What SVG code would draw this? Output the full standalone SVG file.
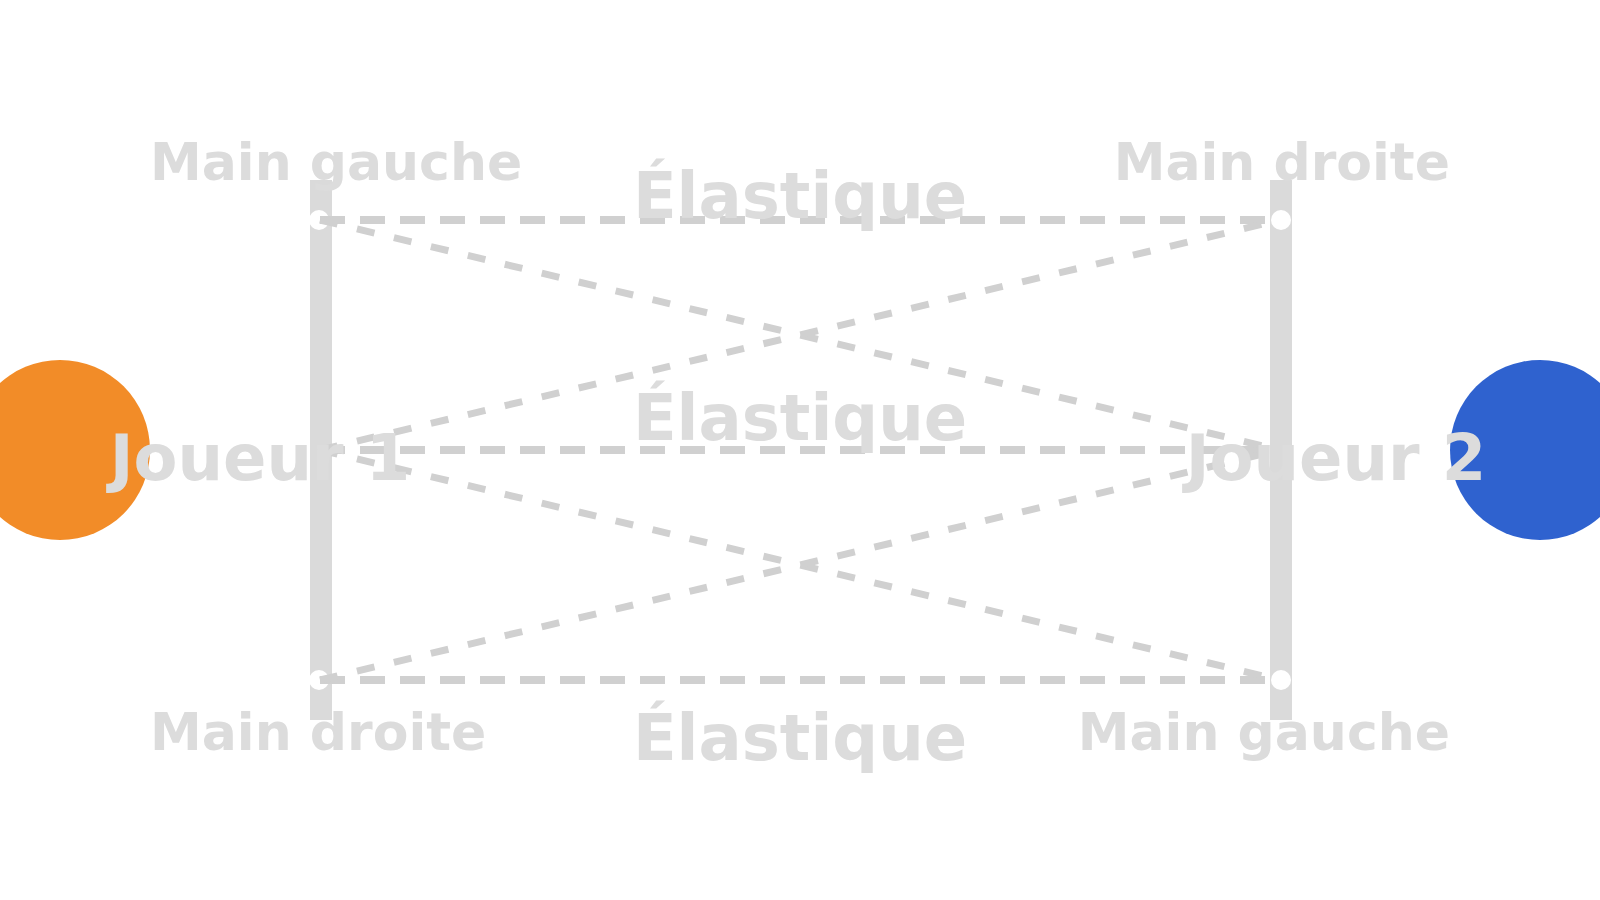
<svg xmlns="http://www.w3.org/2000/svg" width="1600" height="900" viewBox="0 0 1600 900">
<style>
.bar{fill:#dadada}
.el{stroke:#d0d0d0;stroke-width:8;stroke-dasharray:25 15;fill:none}
.diag{stroke:#d0d0d0;stroke-width:7;stroke-dasharray:18 20;fill:none}
.dot{fill:#ffffff}
.lbl{font-family:"DejaVu Sans",sans-serif;font-weight:bold;fill:#dcdcdc}
.hand{font-size:52px}
.big{font-size:64px}
</style>
<rect width="1600" height="900" fill="#ffffff"/>
<g id="joueur1"><circle cx="60" cy="450" r="90" fill="#f28c28"/></g>
<g id="joueur2"><circle cx="1540" cy="450" r="90" fill="#2f62cf"/></g>
<g id="baton-gauche"><rect class="bar" x="310" y="180" width="22" height="540"/></g>
<g id="baton-droit"><rect class="bar" x="1270" y="180" width="22" height="540"/></g>
<g id="mains">
<circle class="dot" cx="319" cy="220" r="10"/>
<circle class="dot" cx="1281" cy="220" r="10"/>
<circle class="dot" cx="319" cy="680" r="10"/>
<circle class="dot" cx="1281" cy="680" r="10"/>
</g>
<g id="connectors">
<line class="el" x1="320" y1="220" x2="1280" y2="220"/>
<line class="el" x1="320" y1="450" x2="1280" y2="450"/>
<line class="el" x1="320" y1="680" x2="1280" y2="680"/>
<line class="diag" x1="320" y1="220" x2="1280" y2="450"/>
<line class="diag" x1="320" y1="450" x2="1280" y2="220"/>
<line class="diag" x1="320" y1="450" x2="1280" y2="680"/>
<line class="diag" x1="320" y1="680" x2="1280" y2="450"/>
</g>
<g id="labels">
<text class="lbl hand" x="150" y="180">Main gauche</text>
<text class="lbl hand" x="1450" y="180" text-anchor="end">Main droite</text>
<text class="lbl hand" x="150" y="750">Main droite</text>
<text class="lbl hand" x="1450" y="750" text-anchor="end">Main gauche</text>
<text class="lbl big" x="800" y="218" text-anchor="middle">Élastique</text>
<text class="lbl big" x="800" y="440" text-anchor="middle">Élastique</text>
<text class="lbl big" x="800" y="760" text-anchor="middle">Élastique</text>
<text class="lbl big" x="260" y="480" text-anchor="middle">Joueur 1</text>
<text class="lbl big" x="1336" y="480" text-anchor="middle">Joueur 2</text>
</g>
</svg>
